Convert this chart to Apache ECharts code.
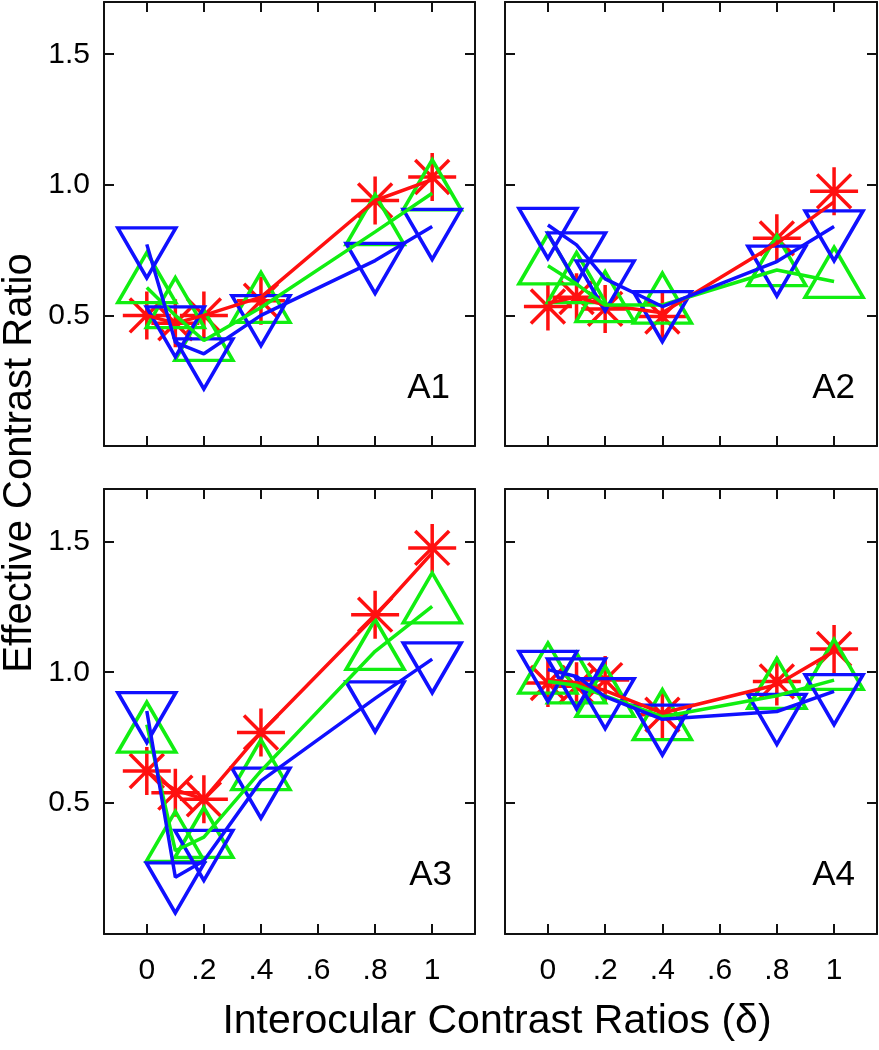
<!DOCTYPE html>
<html>
<head>
<meta charset="utf-8">
<script src="https://cdn.jsdelivr.net/npm/echarts/dist/echarts.min.js"></script>
<style>
html,body{margin:0;padding:0;background:#fff;}
#chart{width:879px;height:1050px;}
</style>
</head>
<body>
<div id="chart"></div>
<script>
// ---- data ----
const xValues = [0, 0.1, 0.2, 0.4, 0.8, 1.0];
const xTickValues = [0, 0.2, 0.4, 0.6, 0.8, 1.0];
const xTickLabels = ['0', '.2', '.4', '.6', '.8', '1'];
const yTickValues = [0.5, 1.0, 1.5];
const yTickLabels = ['0.5', '1.0', '1.5'];
const panelNames = ['A1', 'A2', 'A3', 'A4'];

// measured points
const a1Red   = [0.50, 0.47, 0.50, 0.556, 0.94, 1.03];
const a1Green = [0.645, 0.549, 0.424, 0.569, 0.867, 1.00];
const a1Blue  = [0.739, 0.437, 0.314, 0.48, 0.68, 0.81];
const a2Red   = [0.534, 0.57, 0.525, 0.496, 0.795, 0.975];
const a2Green = [0.716, 0.645, 0.572, 0.566, 0.71, 0.665];
const a2Blue  = [0.814, 0.72, 0.613, 0.495, 0.67, 0.805];
const a3Red   = [0.623, 0.54, 0.515, 0.77, 1.22, 1.475];
const a3Green = [0.79, 0.373, 0.388, 0.647, 1.106, 1.284];
const a3Blue  = [0.827, 0.176, 0.30, 0.538, 0.868, 1.017];
const a4Red   = [0.959, 0.946, 0.97, 0.838, 0.965, 1.089];
const a4Green = [1.016, 0.978, 0.927, 0.838, 0.957, 1.03];
const a4Blue  = [0.984, 0.956, 0.88, 0.779, 0.82, 0.895];

// model fits (lines)
const a1RedFit   = [0.50, 0.47, 0.50, 0.57, 0.94, 1.02];
const a1GreenFit = [0.607, 0.50, 0.404, 0.53, 0.82, 0.968];
const a1BlueFit  = [0.772, 0.397, 0.353, 0.50, 0.71, 0.84];
const a2RedFit   = [0.547, 0.57, 0.54, 0.51, 0.776, 0.935];
const a2GreenFit = [0.69, 0.62, 0.54, 0.54, 0.674, 0.63];
const a2BlueFit  = [0.846, 0.77, 0.64, 0.534, 0.706, 0.84];
const a3RedFit   = [0.62, 0.55, 0.515, 0.77, 1.215, 1.456];
const a3GreenFit = [0.80, 0.318, 0.37, 0.623, 1.08, 1.252];
const a3BlueFit  = [0.852, 0.217, 0.28, 0.585, 0.90, 1.05];
const a4RedFit   = [0.97, 0.96, 0.93, 0.844, 0.952, 1.08];
const a4GreenFit = [0.965, 0.95, 0.91, 0.83, 0.91, 0.97];
const a4BlueFit  = [1.01, 0.984, 0.907, 0.82, 0.85, 0.927];

const panelPoints = [
  [a1Red, a1Green, a1Blue],
  [a2Red, a2Green, a2Blue],
  [a3Red, a3Green, a3Blue],
  [a4Red, a4Green, a4Blue]
];
const panelFits = [
  [a1RedFit, a1GreenFit, a1BlueFit],
  [a2RedFit, a2GreenFit, a2BlueFit],
  [a3RedFit, a3GreenFit, a3BlueFit],
  [a4RedFit, a4GreenFit, a4BlueFit]
];

// ---- styles ----
const FONT = '"Liberation Sans", Arial, Helvetica, sans-serif';
const colors = ['#ff1010', '#11ee11', '#1010ff'];
const asterisk = 'path://M0,-1L0,1M-1,0L1,0M-0.707,-0.707L0.707,0.707M-0.707,0.707L0.707,-0.707';
const grids = [
  {left: 104, top: 2, width: 371, height: 444},
  {left: 505, top: 2, width: 372, height: 444},
  {left: 104, top: 489, width: 371, height: 445},
  {left: 505, top: 489, width: 372, height: 445}
];
const labelPos = [
  {x: 450, y: 388}, {x: 855, y: 388}, {x: 452, y: 875}, {x: 855, y: 875}
];

const axisLine = {show: true, onZero: false, lineStyle: {color: '#111', width: 2}};
const xAxes = [], yAxes = [], series = [];
const pair = arr => arr.map((v, i) => [xValues[i], v]);
const xFmt = v => { const k = xTickValues.findIndex(t => Math.abs(t - v) < 1e-6); return k >= 0 ? xTickLabels[k] : ''; };
const yFmt = v => { const k = yTickValues.findIndex(t => Math.abs(t - v) < 1e-6); return k >= 0 ? yTickLabels[k] : ''; };

grids.forEach((g, i) => {
  ['bottom', 'top'].forEach(pos => {
    xAxes.push({
      type: 'value', gridIndex: i, position: pos, min: -0.15, max: 1.15,
      axisLine: axisLine,
      axisTick: {show: true, inside: true, length: 10, customValues: xTickValues, lineStyle: {color: '#111', width: 2}},
      axisLabel: {show: pos === 'bottom' && i >= 2, customValues: xTickValues, formatter: xFmt,
                  fontFamily: FONT, fontSize: 30, color: '#000', margin: 22},
      splitLine: {show: false}
    });
  });
  ['left', 'right'].forEach(pos => {
    yAxes.push({
      type: 'value', gridIndex: i, position: pos, min: 0, max: 1.7,
      axisLine: axisLine,
      axisTick: {show: true, inside: true, length: 10, customValues: yTickValues, lineStyle: {color: '#111', width: 2}},
      axisLabel: {show: pos === 'left' && i % 2 === 0, customValues: yTickValues, formatter: yFmt,
                  fontFamily: FONT, fontSize: 30, color: '#000', margin: 14},
      splitLine: {show: false}
    });
  });
  const xi = i * 2, yi = i * 2;
  const pts = panelPoints[i];
  const marks = [
    {symbol: asterisk, size: 48, rotate: 0},
    {symbol: 'triangle', size: [58, 50], rotate: 0},
    {symbol: 'triangle', size: [58, 50], rotate: 180}
  ];
  pts.forEach((arr, s) => {
    series.push({
      type: 'scatter', xAxisIndex: xi, yAxisIndex: yi, data: pair(arr),
      symbol: marks[s].symbol, symbolSize: marks[s].size, symbolRotate: marks[s].rotate,
      itemStyle: {color: 'rgba(0,0,0,0)', borderColor: colors[s], borderWidth: 3.5, opacity: 1},
      z: 2 + s, silent: true
    });
  });
  panelFits[i].forEach((arr, s) => {
    series.push({
      type: 'line', xAxisIndex: xi, yAxisIndex: yi, data: pair(arr),
      showSymbol: false, symbol: 'none',
      lineStyle: {color: colors[s], width: 3.5},
      z: 6 + s, silent: true
    });
  });
});

const graphics = panelNames.map((t, i) => ({
  type: 'text', x: labelPos[i].x, y: labelPos[i].y,
  style: {text: t, font: '35px ' + FONT, fill: '#000', textAlign: 'right', textVerticalAlign: 'middle'}
}));
graphics.push({
  type: 'text', x: 20, y: 463, rotation: Math.PI / 2,
  style: {text: 'Effective Contrast Ratio', font: '40px ' + FONT, fill: '#000', textAlign: 'center', textVerticalAlign: 'middle'}
});
graphics.push({
  type: 'text', x: 497, y: 1022,
  style: {text: 'Interocular Contrast Ratios (δ)', font: '41px ' + FONT, fill: '#000', textAlign: 'center', textVerticalAlign: 'middle'}
});

const chart = echarts.init(document.getElementById('chart'), null, {renderer: 'canvas'});
chart.setOption({
  animation: false,
  backgroundColor: '#fff',
  grid: grids,
  xAxis: xAxes,
  yAxis: yAxes,
  series: series,
  graphic: graphics
});
</script>
</body>
</html>
